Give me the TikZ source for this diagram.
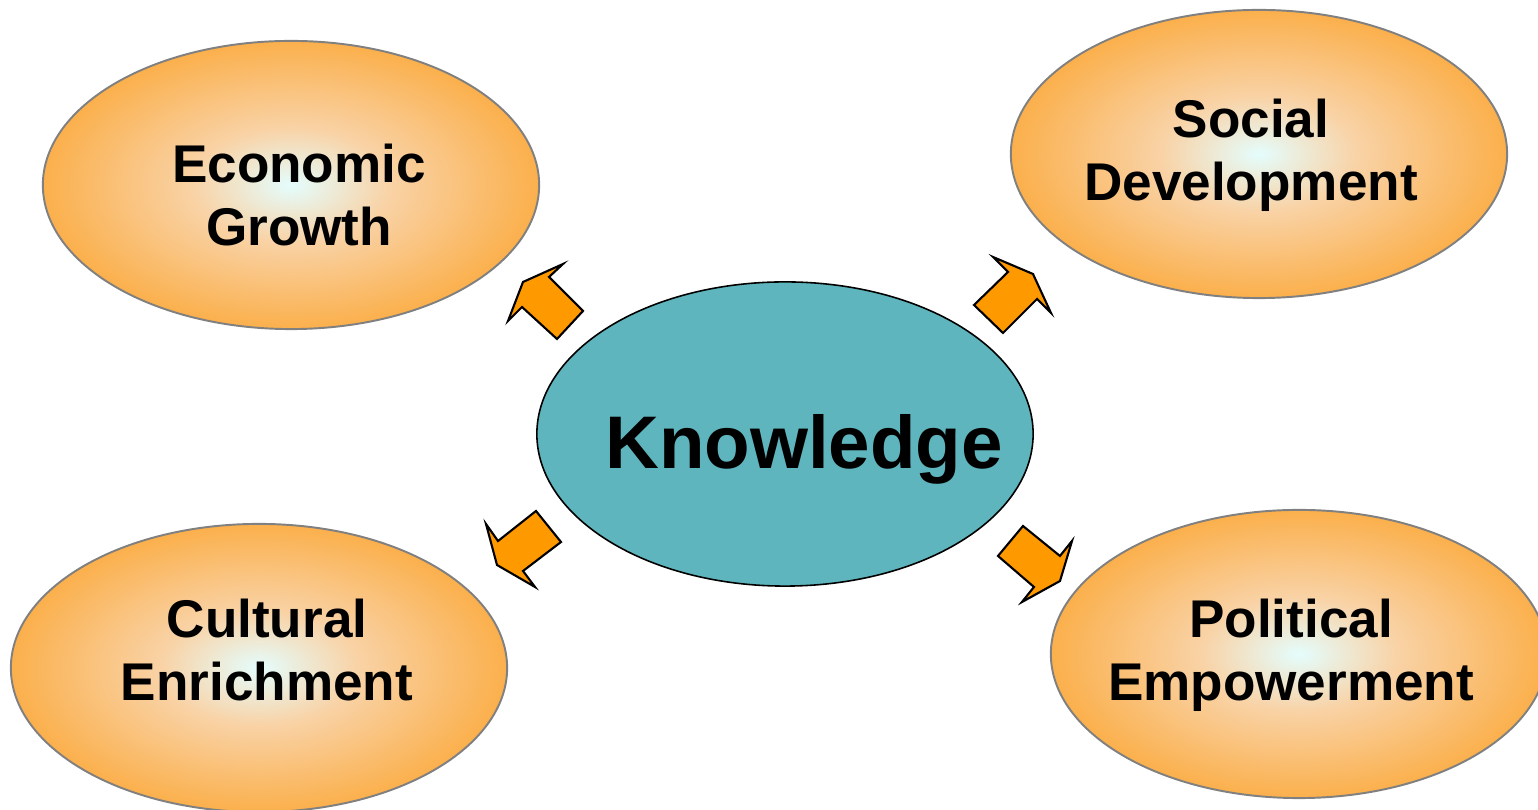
\documentclass[tikz,border=0pt]{standalone}
\usepackage{fontspec}
\setmainfont{Liberation Sans}
\usepackage{tikz}
\usetikzlibrary{shapes.geometric}

\definecolor{glowin}{RGB}{228,253,253}
\definecolor{glowmid}{RGB}{249,210,165}
\definecolor{glowout}{RGB}{251,171,64}
\definecolor{knowfill}{RGB}{95,181,189}
\definecolor{arrowfill}{RGB}{255,153,0}
\pgfdeclareradialshading{glow}{\pgfpoint{0bp}{0bp}}{color(0bp)=(glowin); color(10bp)=(glowmid); color(27bp)=(glowout); color(50bp)=(glowout)}

\begin{document}
\begin{tikzpicture}[x=0.01cm, y=-0.01cm,
    goal/.style={ellipse, draw=gray, line width=0.55pt, shading=glow,
                 minimum width=4.96cm, minimum height=2.88cm, inner sep=0pt},
    core/.style={ellipse, draw=black, line width=0.45pt, fill=knowfill,
                 minimum width=4.96cm, minimum height=3.04cm, inner sep=0pt},
    lbl/.style={font=\bfseries\fontsize{15.1}{17.9}\selectfont, align=center, inner sep=0pt},
    push/.style={draw=black, line width=0.6pt, fill=arrowfill, line join=miter}]
    \useasboundingbox (0,0) rectangle (1538,810);
    \clip (0,0) rectangle (1538,810);

    % the four goals round the middle
    \node[goal] (econ)   at ( 291,185) {};
    \node[goal] (social) at (1259,154) {};
    \node[goal] (cult)   at ( 259,668) {};
    \node[goal] (polit)  at (1299,654) {};
    \node[core] (know)   at ( 785,434) {};

    \node[lbl] (econtxt)   at ([shift={( 8, 10)}]econ.center)   {Economic\\Growth};
    \node[lbl] (socialtxt) at ([shift={(-8,  1)}]social.center) {Social\\Development};
    \node[lbl] (culttxt)   at ([shift={( 8,-18)}]cult.center)   {Cultural\\Enrichment};
    \node[lbl] (polittxt)  at ([shift={(-8,  1)}]polit.center)  {Political\\Empowerment};
    \node[lbl, font=\bfseries\fontsize{21.2}{25}\selectfont] (knowtxt)
        at ([shift={(19,15)}]know.center) {Knowledge};

    % block arrows pointing out of the middle
    \draw[push] (563,264) -- (549,277) -- (583,311) -- (557,339) -- (522,307) -- (508,321) -- (523,282) -- cycle;
    \draw[push] (993,257) -- (1008,272) -- (974,305) -- (1003,333) -- (1037,299) -- (1051,313) -- (1033,274) -- cycle;
    \draw[push] (486,524) -- (498,541) -- (536,511) -- (561,542) -- (523,571) -- (535,587) -- (497,565) -- cycle;
    \draw[push] (1023,526) -- (1060,556) -- (1072,541) -- (1060,581) -- (1022,602) -- (1034,587) -- (998,556) -- cycle;
\end{tikzpicture}
\end{document}
